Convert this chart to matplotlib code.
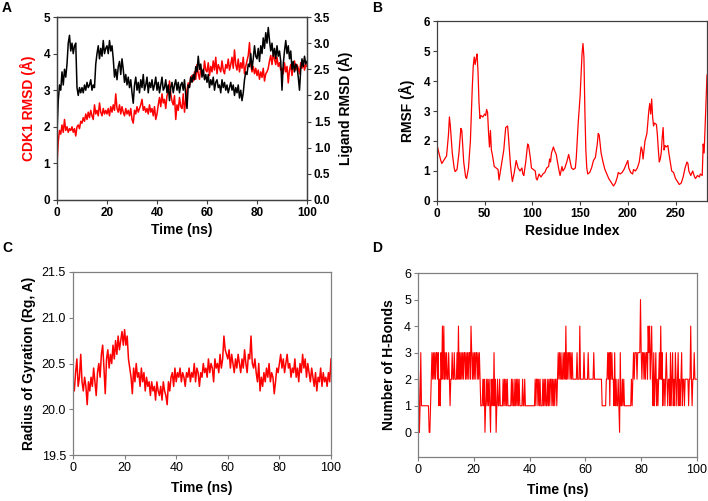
import numpy as np
import matplotlib
matplotlib.use("Agg")
import matplotlib.pyplot as plt

plt.rcParams['font.family'] = ['Liberation Sans', 'DejaVu Sans']

# ---- data ----
# A: CDK1 RMSD (left axis) and ligand RMSD (right axis), one value every 0.5 ns
time_a = np.arange(0, 100.5, 0.5)
cdk1_rmsd = [
    1.0, 1.6, 1.9, 1.8, 2.05, 1.85, 2.2, 1.9, 2.0, 1.85, 1.95, 1.9, 2.0, 1.85, 1.95, 1.75, 2.0, 2.05, 1.95, 2.15,
    2.1, 2.25, 2.15, 2.35, 2.2, 2.4, 2.25, 2.45, 2.3, 2.2, 2.6, 2.35, 2.45, 2.3, 2.65, 2.4, 2.3, 2.5, 2.35, 2.45,
    2.35, 2.5, 2.3, 2.55, 2.4, 2.6, 2.45, 2.9, 2.5, 2.4, 2.6, 2.35, 2.55, 2.4, 2.3, 2.5, 2.35, 2.45, 2.3, 2.5,
    2.2, 2.1, 2.45, 2.35, 2.55, 2.4, 2.5, 2.6, 2.75, 2.45, 2.55, 2.4, 2.5, 2.35, 2.6, 2.4, 2.5, 2.3, 2.55, 2.2,
    2.35, 2.6, 2.8, 2.55, 2.9, 2.65, 2.75, 2.5, 2.85, 2.95, 3.25, 2.9, 2.7, 2.6, 2.85, 2.2, 2.6, 2.45, 2.8, 2.55,
    2.5, 2.9, 2.4, 2.75, 3.0, 3.2, 3.1, 3.35, 3.4, 3.25, 3.5, 3.3, 3.7, 3.45, 3.3, 3.6, 3.5, 3.4, 3.8, 3.55,
    3.5, 3.75, 3.4, 3.65, 3.5, 3.8, 3.55, 3.9, 3.45, 3.7, 3.6, 3.5, 3.8, 3.55, 3.45, 3.7, 3.6, 3.85, 3.55, 3.7,
    3.9, 3.6, 4.1, 3.7, 3.55, 3.85, 3.5, 3.75, 3.6, 3.9, 3.45, 3.65, 3.8, 3.95, 4.3, 3.7, 3.5, 3.65, 3.45, 3.6,
    3.4, 3.55, 3.3, 3.5, 3.35, 3.6, 3.25, 3.45, 3.5, 3.6, 3.8, 3.95, 3.7, 4.0, 3.85, 3.7, 3.9, 3.65, 3.75, 3.55,
    3.6, 3.45, 3.75, 3.5, 3.65, 3.2, 3.55, 3.7, 3.4, 3.65, 3.8, 3.55, 3.7, 3.6, 3.45, 3.75, 3.6, 3.8, 3.55, 3.7,
    3.65]
ligand_rmsd = [
    1.3, 1.9, 2.2, 2.1, 2.45, 2.2, 2.5, 2.35, 2.6, 3.0, 3.15, 2.85, 3.0, 2.8, 2.95, 3.0, 2.15, 2.0, 2.15, 2.05,
    2.15, 2.05, 2.2, 2.1, 2.25, 2.15, 2.2, 2.3, 2.1, 2.2, 2.15, 2.6, 2.8, 2.95, 2.7, 2.9, 2.75, 3.05, 2.8, 2.9,
    2.95, 2.8, 3.05, 2.85, 2.95, 2.7, 2.35, 2.5, 2.3, 2.55, 2.65, 2.4, 2.7, 2.5, 2.25, 2.4, 2.2, 2.35, 2.15, 2.3,
    2.05, 1.85, 2.2, 2.35, 2.1, 2.25, 2.05, 2.3, 2.15, 2.4, 2.1, 2.2, 2.35, 2.05, 2.25, 2.15, 2.3, 2.1, 2.2, 2.35,
    2.1, 2.25, 2.05, 2.2, 2.35, 2.1, 2.15, 2.3, 2.05, 2.2, 1.9, 2.15, 2.25, 2.05, 2.2, 2.3, 2.1, 2.25, 2.05, 2.2,
    2.25, 2.1, 2.3, 2.0, 1.75, 2.2, 2.15, 2.35, 2.25, 2.4, 2.3, 2.55, 2.45, 2.75, 2.5, 2.6, 2.35, 2.5, 2.3, 2.4,
    2.25, 2.4, 2.15, 2.3, 2.2, 2.35, 2.1, 2.25, 2.3, 2.15, 2.2, 2.05, 2.3, 2.15, 2.25, 2.1, 2.2, 2.05, 2.15, 2.25,
    2.1, 2.2, 2.0, 2.15, 2.05, 2.2, 1.95, 2.1, 1.9, 2.05, 2.3, 2.45, 2.4, 2.6, 2.55, 2.8, 2.5, 2.7, 2.95, 2.75,
    2.7, 2.9, 2.65, 2.95, 2.8, 3.1, 2.9, 3.2, 3.0, 3.3, 3.05, 2.85, 3.0, 2.75, 2.9, 2.7, 2.95, 2.75, 2.85, 2.65,
    2.1, 2.6, 2.85, 3.05, 2.8, 2.95, 2.7, 2.85, 2.5, 2.65, 2.45, 2.6, 2.55, 2.35, 2.1, 2.5, 2.7, 2.55, 2.75, 2.6,
    2.65]

# B: RMSF per residue
residue = [0, 2, 4, 5, 7, 9, 10, 12, 13, 14, 16, 18, 19, 21, 23, 25, 26, 28, 30, 31, 33, 35, 37, 38, 39, 40,
           41, 42, 43, 44, 45, 46, 48, 50, 51, 52, 53, 54, 55, 56, 57, 58, 60, 62, 64, 65, 67, 69, 70, 72, 74,
           75, 77, 78, 79, 81, 83, 85, 87, 89, 90, 91, 93, 95, 96, 98, 99, 101, 103, 104, 105, 107, 109, 111,
           113, 115, 117, 118, 119, 120, 122, 123, 125, 126, 128, 129, 131, 132, 134, 136, 138, 139, 141, 143,
           145, 146, 148, 150, 152, 153, 154, 155, 156, 157, 158, 160, 162, 164, 166, 168, 169, 170, 172, 174,
           176, 178, 180, 182, 184, 185, 187, 189, 190, 192, 194, 196, 198, 200, 201, 203, 205, 206, 208, 210,
           212, 214, 215, 216, 218, 220, 222, 223, 224, 225, 226, 227, 228, 230, 231, 232, 233, 234, 235, 236,
           237, 238, 239, 240, 242, 243, 244, 246, 248, 250, 252, 254, 256, 258, 260, 262, 263, 264, 266, 268,
           270, 271, 273, 275, 276, 278, 279, 280, 281, 282, 283]
rmsf = [1.87, 1.6, 1.35, 1.25, 1.35, 1.45, 1.5, 2.2, 2.8, 2.5, 1.6, 1.1, 0.98, 1.05, 1.6, 2.42, 2.35, 1.3, 0.8,
        0.75, 1.1, 2.0, 3.8, 4.5, 4.8, 4.55, 4.75, 4.9, 4.3, 3.3, 2.75, 2.85, 2.8, 2.9, 2.85, 3.05, 2.95, 2.3,
        1.8, 2.35, 1.7, 1.55, 1.15, 1.1, 1.05, 0.7, 1.1, 1.5, 1.7, 2.45, 2.5, 2.1, 1.2, 0.9, 0.65, 0.95, 1.35,
        1.1, 1.0, 1.1, 0.9, 0.85, 1.3, 1.9, 1.85, 1.4, 1.1, 1.05, 1.0, 0.75, 0.7, 0.9, 0.8, 0.9, 0.95, 1.1,
        1.15, 1.4, 1.3, 1.6, 1.8, 1.7, 1.55, 1.35, 1.0, 0.85, 1.15, 1.0, 1.1, 1.3, 1.55, 1.4, 1.1, 1.05, 1.1,
        1.45, 2.6, 3.5, 4.9, 5.25, 4.8, 3.0, 1.7, 1.1, 0.9, 0.95, 1.1, 1.35, 1.45, 1.9, 2.25, 2.2, 1.6, 1.3,
        1.05, 0.9, 0.75, 0.65, 0.55, 0.5, 0.6, 0.8, 0.95, 0.9, 0.95, 1.05, 1.2, 1.35, 1.1, 0.95, 0.9, 1.05,
        1.0, 1.1, 1.3, 1.8, 1.7, 1.4, 2.0, 2.25, 3.0, 3.25, 2.9, 3.4, 2.8, 2.5, 2.6, 2.55, 2.2, 1.7, 1.3, 1.4,
        1.6, 2.1, 2.45, 1.7, 1.85, 1.8, 1.85, 1.6, 1.4, 1.0, 0.95, 0.75, 0.65, 0.55, 0.6, 0.8, 1.1, 1.3, 1.25,
        1.0, 0.85, 1.0, 0.8, 0.75, 0.85, 0.8, 0.9, 0.85, 1.9, 1.6, 2.5, 3.3, 4.2]

# C: radius of gyration, one value every 0.5 ns
time_c = np.arange(0, 100.5, 0.5)
rgyr = [
    20.3, 20.2, 20.4, 20.55, 20.25, 20.35, 20.6, 20.3, 20.2, 20.35, 20.25, 20.05, 20.3, 20.2, 20.35, 20.25, 20.45, 20.3, 20.15, 20.4,
    20.5, 20.35, 20.6, 20.7, 20.45, 20.17, 20.55, 20.65, 20.45, 20.6, 20.5, 20.7, 20.55, 20.75, 20.6, 20.8, 20.65, 20.75, 20.85, 20.7,
    20.87, 20.7, 20.8, 20.55, 20.45, 20.35, 20.17, 20.45, 20.3, 20.5, 20.35, 20.4, 20.25, 20.45, 20.3, 20.4, 20.2, 20.35, 20.25, 20.3,
    20.15, 20.3, 20.2, 20.25, 20.1, 20.3, 20.2, 20.15, 20.25, 20.1, 20.3, 20.2, 20.15, 20.05, 20.3, 20.2, 20.35, 20.4, 20.25, 20.45,
    20.3, 20.4, 20.35, 20.45, 20.3, 20.4, 20.35, 20.25, 20.4, 20.35, 20.45, 20.3, 20.4, 20.35, 20.5, 20.3, 20.45, 20.4, 20.25, 20.4,
    20.35, 20.5, 20.4, 20.45, 20.35, 20.55, 20.4, 20.5, 20.45, 20.3, 20.55, 20.45, 20.5, 20.4, 20.6, 20.45, 20.55, 20.8, 20.65, 20.6,
    20.55, 20.65, 20.45, 20.6, 20.5, 20.4, 20.55, 20.45, 20.6, 20.5, 20.4, 20.55, 20.45, 20.65, 20.5, 20.4, 20.6, 20.55, 20.8, 20.5,
    20.45, 20.55, 20.4, 20.3, 20.5, 20.2, 20.35, 20.25, 20.4, 20.3, 20.45, 20.35, 20.5, 20.3, 20.4, 20.35, 20.17, 20.3, 20.45, 20.4,
    20.5, 20.6, 20.45, 20.55, 20.4, 20.5, 20.6, 20.45, 20.5, 20.35, 20.45, 20.4, 20.55, 20.35, 20.45, 20.3, 20.5, 20.4, 20.6, 20.45,
    20.55, 20.35, 20.5, 20.4, 20.3, 20.45, 20.35, 20.25, 20.4, 20.2, 20.35, 20.3, 20.45, 20.25, 20.4, 20.3, 20.35, 20.25, 20.4, 20.3,
    20.55]

# D: number of H-bonds, one value every 0.25 ns
time_d = np.arange(0, 100.25, 0.25)
hbonds = [
    3, 2, 0, 1, 3, 1, 1, 1, 1, 1, 1, 1, 1, 1, 1, 1, 0, 0, 1, 2, 3, 2, 3, 2, 3, 2, 3, 3, 2, 3, 1, 2, 1, 3, 2, 4, 2, 4, 2, 3,
    2, 3, 2, 2, 3, 2, 1, 2, 2, 3, 2, 2, 3, 2, 2, 2, 3, 2, 4, 2, 3, 2, 3, 2, 3, 2, 3, 3, 2, 3, 2, 3, 2, 3, 3, 2, 4, 3, 2, 3,
    2, 3, 2, 3, 3, 2, 3, 2, 3, 2, 1, 1, 1, 2, 1, 2, 0, 1, 2, 1, 2, 1, 2, 1, 0, 2, 1, 2, 1, 3, 1, 2, 0, 1, 2, 1, 1, 2, 1, 1,
    1, 1, 2, 1, 2, 1, 2, 1, 2, 1, 1, 1, 1, 1, 2, 1, 2, 1, 1, 2, 1, 2, 1, 2, 1, 2, 1, 1, 1, 1, 2, 1, 1, 2, 1, 1, 1, 1, 1, 1,
    1, 1, 1, 1, 1, 1, 1, 1, 2, 1, 2, 2, 1, 2, 1, 2, 1, 1, 1, 2, 1, 2, 1, 2, 1, 1, 2, 1, 2, 1, 2, 2, 1, 2, 1, 2, 1, 2, 2, 1,
    2, 3, 2, 3, 2, 3, 2, 2, 3, 2, 3, 2, 4, 2, 3, 2, 3, 3, 2, 3, 2, 3, 2, 2, 2, 2, 2, 2, 3, 2, 2, 2, 4, 2, 2, 2, 2, 2, 3, 2,
    2, 2, 2, 2, 3, 2, 2, 2, 2, 2, 2, 2, 3, 2, 2, 2, 2, 2, 2, 2, 2, 2, 2, 2, 1, 1, 1, 1, 1, 1, 2, 2, 3, 2, 3, 1, 3, 2, 3, 2,
    2, 1, 3, 1, 2, 1, 1, 2, 1, 0, 3, 1, 1, 2, 1, 2, 1, 1, 1, 1, 1, 1, 1, 1, 1, 1, 2, 1, 2, 3, 2, 3, 3, 3, 2, 3, 3, 3, 3, 5,
    3, 2, 3, 3, 2, 3, 2, 3, 3, 2, 4, 3, 4, 2, 3, 4, 2, 1, 3, 1, 2, 3, 1, 2, 1, 2, 3, 2, 4, 2, 3, 1, 2, 2, 1, 2, 3, 2, 1, 2,
    2, 1, 3, 1, 2, 3, 1, 2, 1, 3, 2, 1, 2, 3, 1, 2, 1, 2, 3, 1, 2, 2, 1, 2, 2, 2, 2, 2, 1, 2, 2, 4, 2, 1, 2, 2, 3, 2, 2, 2,
    2]

RED = '#ff0000'
W, H = 708, 501


def box(l, t, r, b):
    # pixel box -> figure fraction
    return [l / W, 1 - b / H, (r - l) / W, (b - t) / H]


def style(ax, spine_col, bold_ticks, tick_size):
    for s in ax.spines.values():
        s.set_color(spine_col)
        s.set_linewidth(0.9)
    ax.tick_params(direction='out', length=3, width=0.8, color=spine_col,
                   labelsize=tick_size, pad=2)
    if bold_ticks:
        for lab in ax.get_xticklabels() + ax.get_yticklabels():
            lab.set_fontweight('bold')


fig = plt.figure(figsize=(7.08, 5.01), dpi=100)

# ---- A ----
axa = fig.add_axes(box(57, 17, 307, 200))
axa.plot(time_a, cdk1_rmsd, color=RED, lw=1.1)
axa.set_xlim(0, 100)
axa.set_ylim(0, 5)
axa.set_xticks(range(0, 101, 20))
axa.set_yticks(range(0, 6))
axa.set_xlabel('Time (ns)', fontsize=10, fontweight='bold', labelpad=3)
axa.set_ylabel('CDK1 RMSD (Å)', fontsize=10, fontweight='bold', color=RED, labelpad=5)
axb2 = axa.twinx()
axb2.plot(time_a, ligand_rmsd, color='black', lw=1.1)
axb2.set_ylim(0, 3.5)
axb2.set_yticks(np.arange(0, 3.51, 0.5))
axb2.set_yticklabels(['%.1f' % v for v in np.arange(0, 3.51, 0.5)])
axb2.set_ylabel('Ligand RMSD (Å)', fontsize=10, fontweight='bold', rotation=90, labelpad=5)
style(axa, '#404040', True, 8.5)
style(axb2, '#404040', True, 8.5)

# ---- B ----
axb = fig.add_axes(box(437, 21, 707, 201))
axb.plot(residue, rmsf, color=RED, lw=0.9)
axb.set_xlim(0, 283)
axb.set_ylim(0, 6)
axb.set_xticks(range(0, 251, 50))
axb.set_yticks(range(0, 7))
axb.set_xlabel('Residue Index', fontsize=10, fontweight='bold', labelpad=3)
axb.set_ylabel('RMSF (Å)', fontsize=10, fontweight='bold', labelpad=6)
style(axb, '#404040', True, 8.5)

# ---- C ----
axc = fig.add_axes(box(73, 272, 331, 455))
axc.plot(time_c, rgyr, color=RED, lw=1.1)
axc.set_xlim(0, 100)
axc.set_ylim(19.5, 21.5)
axc.set_xticks(range(0, 101, 20))
axc.set_yticks(np.arange(19.5, 21.51, 0.5))
axc.set_yticklabels(['%.1f' % v for v in np.arange(19.5, 21.51, 0.5)])
axc.set_xlabel('Time (ns)', fontsize=10, fontweight='bold', labelpad=5)
axc.set_ylabel('Radius of Gyration (Rg, A)', fontsize=10, fontweight='bold', labelpad=4)
style(axc, '#808080', False, 9)

# ---- D ----
axd = fig.add_axes(box(418, 273, 697, 457))
axd.plot(time_d, hbonds, color=RED, lw=0.8)
axd.set_xlim(0, 100)
axd.set_ylim(-0.93, 6)
axd.set_xticks(range(0, 101, 20))
axd.set_yticks(range(0, 7))
axd.set_xlabel('Time (ns)', fontsize=10, fontweight='bold', labelpad=5)
axd.set_ylabel('Number of H-Bonds', fontsize=10, fontweight='bold', labelpad=6)
style(axd, '#808080', False, 9)

# panel letters
for letter, x, y in [('A', 7, 8), ('B', 377, 8), ('C', 7, 248), ('D', 377, 248)]:
    fig.text(x / W, 1 - y / H, letter, fontsize=10, fontweight='bold',
             ha='center', va='center')

fig.savefig('out.png', dpi=100)
